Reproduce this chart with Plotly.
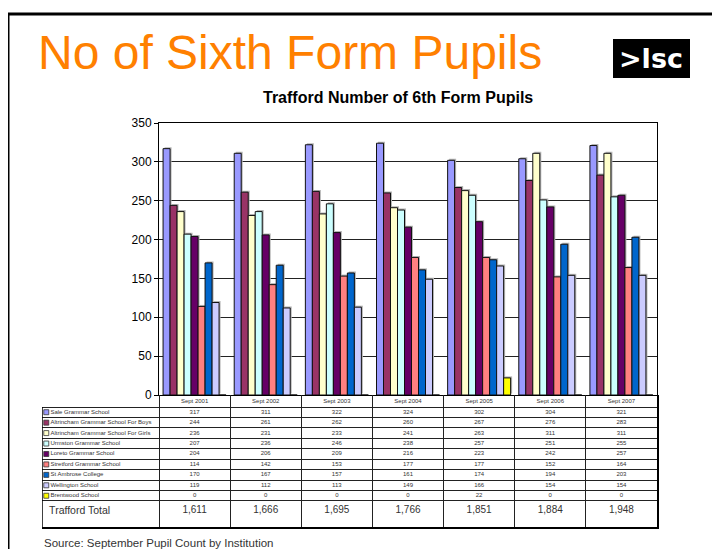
import plotly.graph_objects as go

years = ["Sept 2001", "Sept 2002", "Sept 2003", "Sept 2004", "Sept 2005", "Sept 2006", "Sept 2007"]
schools = [
    "Sale Grammar School",
    "Altrincham Grammar School For Boys",
    "Altrincham Grammar School For Girls",
    "Urmston Grammar School",
    "Loreto Grammar School",
    "Stretford Grammar School",
    "St Ambrose College",
    "Wellington School",
    "Brentwood School",
]
sale = [317, 311, 322, 324, 302, 304, 321]
boys = [244, 261, 262, 260, 267, 276, 283]
girls = [236, 231, 233, 241, 263, 311, 311]
urmston = [207, 236, 246, 238, 257, 251, 255]
loreto = [204, 206, 209, 216, 223, 242, 257]
stretford = [114, 142, 153, 177, 177, 152, 164]
ambrose = [170, 167, 157, 161, 174, 194, 203]
wellington = [119, 112, 113, 149, 166, 154, 154]
brentwood = [0, 0, 0, 0, 22, 0, 0]
totals = ["1,611", "1,666", "1,695", "1,766", "1,851", "1,884", "1,948"]
colors = ["#9999FF", "#993366", "#FFFFCC", "#CCFFFF", "#660066",
          "#FF8080", "#0066CC", "#CCCCFF", "#FFFF00"]
series = [sale, boys, girls, urmston, loreto, stretford, ambrose, wellington, brentwood]

# page body has an 8px margin: figure pixel = reference pixel - 8
OFF = 8
W, H = 720 - OFF, 549 - OFF
L_REF, R_REF, T_REF, B_REF = 42, 657, 123, 527      # outer plot region (reference px)
ML, MR, MT, MB = L_REF - OFF, W - (R_REF - OFF), T_REF - OFF, H - (B_REF - OFF)
PW, PH = R_REF - L_REF, B_REF - T_REF


def px(x):
    return (x - L_REF) / PW


def py(y):
    return (B_REF - y) / PH


AXIS_Y = 395          # chart baseline / table top (reference px)
HEADER_H = 12
ROW_H = 10.44
COL_W = (R_REF - 159) / len(years)
LEFT_EDGE = -0.5 - (159 - L_REF) / COL_W
Y_MAX = 350
PX_PER_UNIT = (AXIS_Y - T_REF) / Y_MAX

BAR_W = 7.0 / COL_W
GROUP_W = BAR_W * len(series)
SHADOW_DX = 1.5 / COL_W
SHADOW_DY = 1.5 / PX_PER_UNIT

fig = go.Figure()
# soft grey drop shadows behind each bar
for j, vals in enumerate(series):
    fig.add_trace(go.Bar(
        x=years, y=vals, base=SHADOW_DY, width=BAR_W,
        offset=-GROUP_W / 2 + j * BAR_W + SHADOW_DX,
        marker=dict(color="#B4B4B4", line=dict(width=0)),
        showlegend=False, hoverinfo="skip",
    ))
for j, (name, vals, col) in enumerate(zip(schools, series, colors)):
    fig.add_trace(go.Bar(
        x=years, y=vals, name=name, width=BAR_W,
        offset=-GROUP_W / 2 + j * BAR_W,
        marker=dict(color=col, line=dict(color="#111111", width=1)),
        showlegend=False,
    ))

# ---- data table drawn on a second subplot ----
row_centers = [HEADER_H + ROW_H * (i + 0.5) for i in range(len(schools))]
row_bounds = [HEADER_H + ROW_H * k for k in range(len(schools) + 1)]
total_center = HEADER_H + ROW_H * len(schools) + 10

fig.add_trace(go.Scatter(
    x=[LEFT_EDGE + 0.06] * len(schools), y=row_centers,
    mode="markers+text", text=schools, textposition="middle right",
    marker=dict(symbol="square", size=5, color=colors, line=dict(color="#333333", width=0.8)),
    textfont=dict(size=6, color="#333333", family="Liberation Sans"),
    xaxis="x2", yaxis="y2", showlegend=False, cliponaxis=False, hoverinfo="skip",
))
for i, vals in enumerate(series):
    fig.add_trace(go.Scatter(
        x=list(range(len(years))), y=[row_centers[i]] * len(years),
        mode="text", text=[str(v) for v in vals], textposition="middle center",
        textfont=dict(size=6, color="#333333", family="Liberation Sans"),
        xaxis="x2", yaxis="y2", showlegend=False, cliponaxis=False, hoverinfo="skip",
    ))
fig.add_trace(go.Scatter(
    x=[LEFT_EDGE + 0.1], y=[total_center], mode="text", text=["Trafford Total"],
    textposition="middle right",
    textfont=dict(size=10.5, color="#333333", family="Liberation Sans"),
    xaxis="x2", yaxis="y2", showlegend=False, cliponaxis=False, hoverinfo="skip",
))
fig.add_trace(go.Scatter(
    x=list(range(len(years))), y=[total_center] * len(years), mode="text", text=totals,
    textposition="middle center",
    textfont=dict(size=10, color="#333333", family="Liberation Sans"),
    xaxis="x2", yaxis="y2", showlegend=False, cliponaxis=False, hoverinfo="skip",
))

fig.update_layout(
    width=W, height=H,
    margin=dict(l=ML, r=MR, t=MT, b=MB, autoexpand=False),
    paper_bgcolor="white", plot_bgcolor="rgba(0,0,0,0)",
    barmode="overlay",
    font=dict(family="Liberation Sans", color="black"),
    xaxis=dict(domain=[px(159), 1], anchor="y", showline=True,
               linecolor="black", linewidth=1, mirror=True, ticks="",
               showgrid=False, fixedrange=True,
               range=[-0.5, len(years) - 0.5],
               tickfont=dict(size=6, color="#333333")),
    yaxis=dict(domain=[py(AXIS_Y), 1], anchor="x", range=[0, Y_MAX], dtick=50,
               showline=True, linecolor="black", linewidth=1, mirror=True,
               ticks="outside", ticklen=4, tickcolor="black",
               showgrid=True, gridcolor="#222222", gridwidth=1, zeroline=False,
               tickfont=dict(size=12, color="black")),
    xaxis2=dict(domain=[0, 1], anchor="y2", range=[LEFT_EDGE, len(years) - 0.5],
                showticklabels=False, ticks="", zeroline=False,
                tickmode="array", tickvals=[k - 0.5 for k in range(len(years))],
                showgrid=True, gridcolor="#222222", gridwidth=1,
                showline=True, linecolor="black", linewidth=1.5, mirror=False),
    yaxis2=dict(domain=[0, py(AXIS_Y)], anchor="x2", side="right",
                range=[B_REF - AXIS_Y, 0], showticklabels=False, ticks="",
                zeroline=False, tickmode="array", tickvals=row_bounds,
                showgrid=True, gridcolor="#222222", gridwidth=1,
                showline=True, linecolor="black", linewidth=1.5),
    shapes=[
        dict(type="line", xref="paper", yref="paper", x0=px(8), x1=px(730),
             y0=py(14), y1=py(14), line=dict(color="black", width=3)),
        dict(type="line", xref="paper", yref="paper", x0=px(8), x1=px(8),
             y0=py(14), y1=py(560), line=dict(color="black", width=3)),
        dict(type="line", xref="x2", yref="y2", x0=LEFT_EDGE, x1=LEFT_EDGE,
             y0=HEADER_H, y1=B_REF - AXIS_Y, line=dict(color="black", width=1.5)),
        dict(type="rect", xref="paper", yref="paper", x0=px(613), x1=px(690),
             y0=py(39), y1=py(78), fillcolor="black", line=dict(width=0)),
    ],
    annotations=[
        dict(text="No of Sixth Form Pupils", xref="paper", yref="paper",
             x=px(36), y=py(52), xanchor="left", yanchor="middle", showarrow=False,
             font=dict(size=48, color="#FF8000", family="Liberation Sans")),
        dict(text="<b>Trafford Number of 6th Form Pupils</b>", xref="paper", yref="paper",
             x=px(398), y=py(98), xanchor="center", yanchor="middle", showarrow=False,
             font=dict(size=16, color="black", family="Liberation Sans")),
        dict(text="<b>&gt;lsc</b>", xref="paper", yref="paper",
             x=px(651), y=py(58), xanchor="center", yanchor="middle", showarrow=False,
             font=dict(size=27, color="white", family="DejaVu Sans")),
        dict(text="Source: September Pupil Count by Institution", xref="paper", yref="paper",
             x=px(42), y=py(543), xanchor="left", yanchor="middle", showarrow=False,
             font=dict(size=11.5, color="#333333", family="Liberation Sans")),
    ],
)
fig.write_html("out.html")
